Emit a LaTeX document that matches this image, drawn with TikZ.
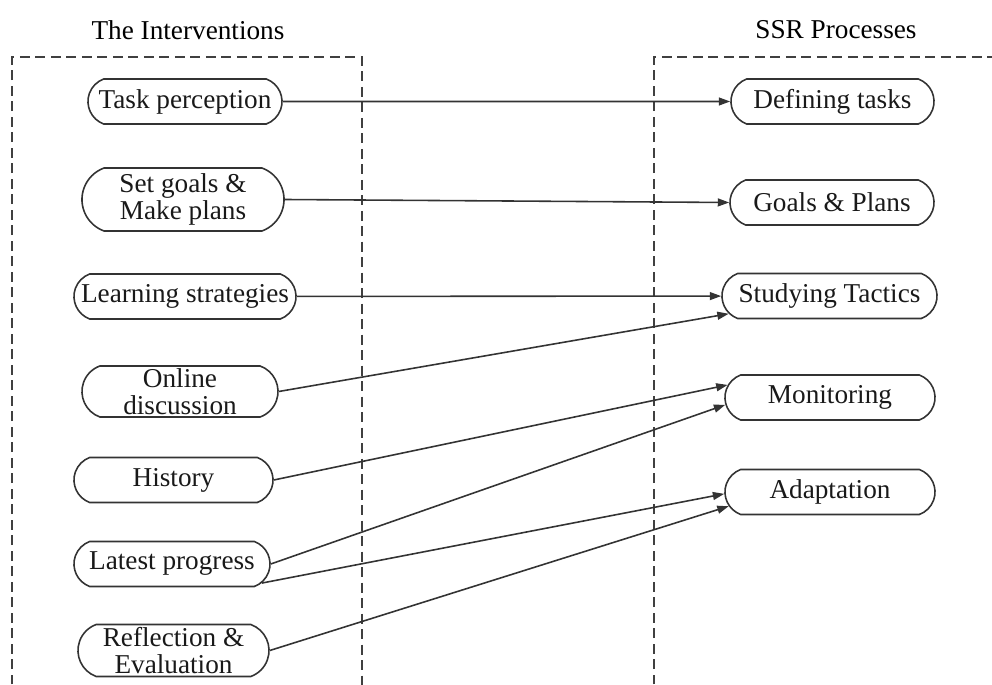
\documentclass[tikz,border=0pt]{standalone}
\usepackage{fontspec}
\setmainfont{Liberation Serif}
\usetikzlibrary{shapes.misc, arrows.meta}

\begin{document}
\begin{tikzpicture}[
  x = 0.02cm, y = -0.02cm,
  font = \fontsize{15.5}{15.4}\selectfont,
  item/.style  = {rounded rectangle, rounded rectangle arc length=140, draw=black!80,
                  line width=0.9pt, inner xsep=-6pt, inner ysep=1pt,
                  minimum height=0.9cm, align=center, text=black!90},
  frame/.style = {line width=0.9pt, draw=black!75, dash pattern=on 0.2cm off 0.11cm},
  arrow/.style = {-{Triangle[length=6.5pt, width=4.5pt]}, line width=0.9pt, color=black!80},
]
  \clip (0,0) rectangle (992,685);

  % headings
  \node (lhead) at (188,30) {The Interventions};
  \node (rhead) at (836,30) {SSR Processes};

  % dashed frames
  \draw[frame] (12,700) -- (12,57) -- (362,57) -- (362,700);
  \draw[frame] (654,700) -- (654,57) -- (1000,57);

  % the interventions
  \node[item, minimum width=3.46cm] (task)     at (185,101.5) {Task perception};
  \node[item, minimum width=3.62cm, minimum height=1.26cm] (goals) at (183,199.5) {Set goals \&\\Make plans};
  \node[item, minimum width=4.02cm] (strat)    at (185,296.5) {Learning strategies};
  \node[item, minimum width=3.50cm, minimum height=1.02cm] (online) at (180,391.5) {Online\\discussion};
  \node[item, minimum width=3.56cm] (hist)     at (173.5,480) {History};
  \node[item, minimum width=3.50cm] (progress) at (172,564) {Latest progress};
  \node[item, minimum width=3.40cm, minimum height=1.04cm] (reflect) at (173.5,650.5) {Reflection \&\\Evaluation};

  % SSR processes
  \node[item, minimum width=3.64cm] (defining) at (832.5,101.5) {Defining tasks};
  \node[item, minimum width=3.66cm] (plans)    at (832,202.5) {Goals \& Plans};
  \node[item, minimum width=3.88cm] (tactics)  at (829.5,296) {Studying Tactics};
  \node[item, minimum width=3.78cm] (monitor)  at (830,397.5) {Monitoring};
  \node[item, minimum width=3.78cm] (adapt)    at (830,492) {Adaptation};

  % links
  \draw[arrow] (task) -- (defining);
  \draw[arrow] (goals.east) -- (plans.west);
  \draw[arrow] (strat) -- (tactics);
  \draw[arrow] (online.east) -- (tactics.190);
  \draw[arrow] (hist.east) -- (monitor.173);
  \draw[arrow] (progress.east) -- (monitor.184);
  \draw[arrow] (progress.-12) -- (adapt.181);
  \draw[arrow] (reflect.east) -- (adapt.188);
\end{tikzpicture}
\end{document}
